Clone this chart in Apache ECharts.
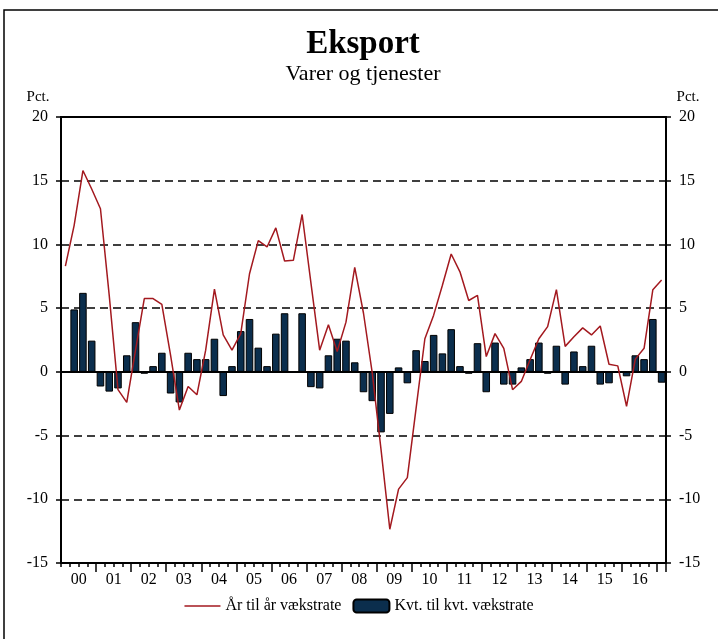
<!DOCTYPE html>
<html>
<head>
<meta charset="utf-8">
<script src="https://cdn.jsdelivr.net/npm/echarts@6/dist/echarts.min.js"></script>
<style>html,body{margin:0;padding:0;background:#fff}#c{width:718px;height:639px}</style>
</head>
<body>
<div id="c"></div>
<script>
// 69 quarterly slots on the category axis (labels shifted as in the original chart)
const categories = [];
for (let y = 2000; y <= 2017; y++) for (let q = 1; q <= 4; q++) if (categories.length < 69) categories.push(y + 'K' + q);

const yearLabels = ['00','01','02','03','04','05','06','07','08','09','10','11','12','13','14','15','16'];

// Year-over-year growth (line), 69 points
const yoyGrowth = [
  8.3, 11.5, 15.8, 14.35, 12.8, 6.0, -1.4, -2.4, 1.7, 5.75,
  5.75, 5.3, 1.3, -3.0, -1.15, -1.8, 1.7, 6.5, 2.9, 1.7,
  3.0, 7.7, 10.3, 9.8, 11.3, 8.7, 8.75, 12.35, 7.0, 1.7,
  3.7, 1.6, 3.9, 8.2, 4.6, -0.1, -6.1, -12.35, -9.2, -8.3,
  -2.85, 2.6, 4.45, 6.8, 9.25, 7.85, 5.6, 6.0, 1.2, 3.0,
  1.85, -1.4, -0.75, 0.95, 2.6, 3.55, 6.45, 2.0, 2.75, 3.45,
  2.9, 3.6, 0.6, 0.47, -2.7, 1.0, 1.85, 6.45, 7.2
];

// Quarter-over-quarter growth (bars), first slot empty, then 68 values
const qoqGrowth = [
  null,
  4.9, 6.2, 2.45, -1.15, -1.55, -1.3, 1.3, 3.9, -0.15, 0.45,
  1.5, -1.7, -2.4, 1.5, 1.0, 1.0, 2.6, -1.9, 0.45, 3.2,
  4.15, 1.9, 0.45, 3.0, 4.6, 0, 4.6, -1.2, -1.3, 1.3,
  2.6, 2.45, 0.75, -1.6, -2.3, -4.75, -3.3, 0.35, -0.9, 1.7,
  0.85, 2.9, 1.45, 3.35, 0.45, -0.15, 2.25, -1.6, 2.3, -1.0,
  -1.0, 0.35, 1.0, 2.3, -0.15, 2.05, -1.0, 1.6, 0.45, 2.05,
  -1.0, -0.9, 0, -0.35, 1.3, 1.0, 4.15, -0.85
];

const FONT = "'Liberation Serif', 'Times New Roman', serif";
const chart = echarts.init(document.getElementById('c'), null, {renderer: 'canvas'});

const yAxisBase = {
  type: 'value', min: -15, max: 20, interval: 5,
  axisLine: {show: true, lineStyle: {color: '#000', width: 2}},
  axisTick: {show: true, inside: false, length: 5, lineStyle: {color: '#000', width: 1.5}},
  axisLabel: {color: '#000', fontFamily: FONT, fontSize: 16, margin: 13}
};

chart.setOption({
  animation: false,
  backgroundColor: '#fff',
  grid: {left: 61, right: 52, top: 117, bottom: 76, show: true, borderColor: '#000', borderWidth: 2, backgroundColor: 'transparent'},
  graphic: [
    {type: 'rect', shape: {x: 4, y: 10, width: 800, height: 700}, style: {fill: 'none', stroke: '#000', lineWidth: 1.5}, silent: true},
    {type: 'text', x: 363, y: 44, style: {text: 'Eksport', font: 'bold 33px ' + FONT, fill: '#000', textAlign: 'center', textVerticalAlign: 'middle'}},
    {type: 'text', x: 363, y: 74, style: {text: 'Varer og tjenester', font: '22px ' + FONT, fill: '#000', textAlign: 'center', textVerticalAlign: 'middle'}},
    {type: 'text', x: 38, y: 97, style: {text: 'Pct.', font: '15px ' + FONT, fill: '#000', textAlign: 'center', textVerticalAlign: 'middle'}},
    {type: 'text', x: 688, y: 97, style: {text: 'Pct.', font: '15px ' + FONT, fill: '#000', textAlign: 'center', textVerticalAlign: 'middle'}}
  ],
  legend: {
    bottom: 20, left: 'center', itemWidth: 36, itemHeight: 13, itemGap: 11,
    textStyle: {fontFamily: FONT, fontSize: 16, color: '#000'},
    data: [
      {name: 'År til år vækstrate', icon: 'path://M0 0H36V1.5H0Z'},
      {name: 'Kvt. til kvt. vækstrate'}
    ]
  },
  xAxis: [
    {
      type: 'category', data: categories, position: 'bottom', boundaryGap: true,
      axisLine: {show: true, onZero: false, lineStyle: {color: '#000', width: 2}},
      axisTick: {show: true, interval: 0, length: 4, lineStyle: {color: '#000', width: 1.5}},
      axisLabel: {
        interval: function (i) { return i % 4 === 1; },
        formatter: function (v, i) { return yearLabels[(i - 1) / 4] || ''; },
        color: '#000', fontFamily: FONT, fontSize: 16, margin: 9, padding: [0, 0, 0, 9]
      },
      splitLine: {show: false}
    },
    {
      type: 'category', data: categories, position: 'bottom', boundaryGap: true,
      axisLine: {show: false, onZero: false},
      axisTick: {show: true, interval: function (i) { return i % 4 === 0 && i > 0; }, length: 9, lineStyle: {color: '#000', width: 1.5}},
      axisLabel: {show: false},
      splitLine: {show: false}
    }
  ],
  yAxis: [
    Object.assign({}, yAxisBase, {
      position: 'left',
      splitLine: {show: true, lineStyle: {color: '#000', width: 1.5, type: [8, 5]}}
    }),
    Object.assign({}, yAxisBase, {position: 'right', splitLine: {show: false}})
  ],
  series: [
    {
      name: 'Kvt. til kvt. vækstrate', type: 'bar', data: qoqGrowth, xAxisIndex: 0, yAxisIndex: 0,
      barCategoryGap: '14%',
      itemStyle: {color: '#0b2e4d', borderColor: '#000', borderWidth: 1},
      markLine: {silent: true, symbol: 'none', label: {show: false}, lineStyle: {color: '#000', width: 2, type: 'solid'}, data: [{yAxis: 0}]},
      z: 2
    },
    {
      name: 'År til år vækstrate', type: 'line', data: yoyGrowth, xAxisIndex: 0, yAxisIndex: 0,
      symbol: 'none', showSymbol: false,
      lineStyle: {color: '#a3191f', width: 1.5}, itemStyle: {color: '#a3191f'},
      z: 5
    }
  ]
});
</script>
</body>
</html>
